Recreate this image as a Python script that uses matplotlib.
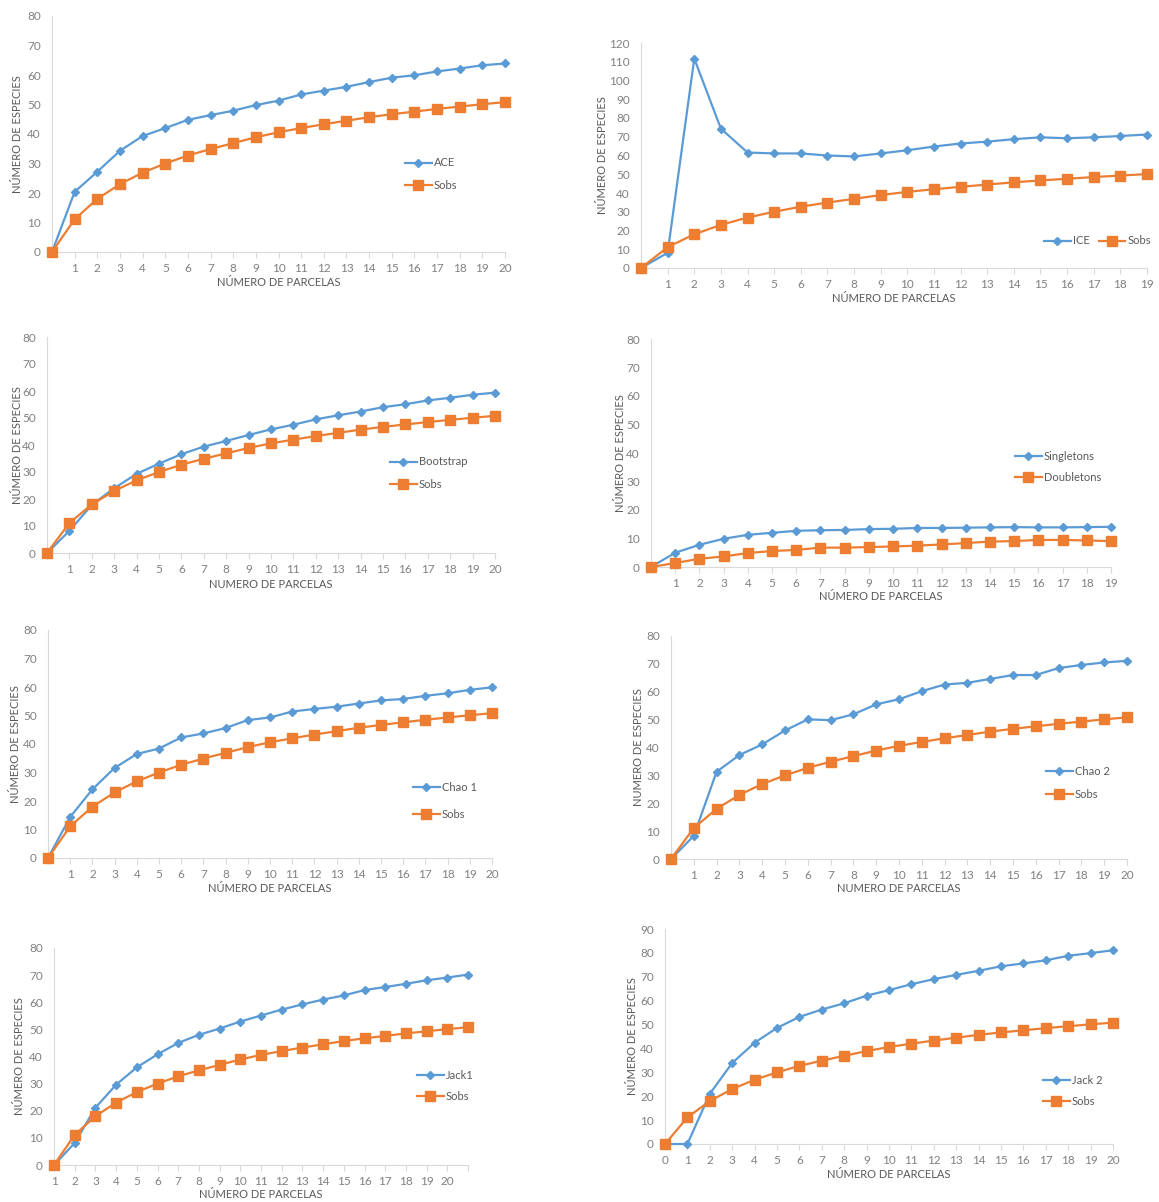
import numpy as np
import matplotlib.pyplot as plt
from matplotlib.lines import Line2D

plt.rcParams.update({
    'font.family': ['Lato', 'DejaVu Sans'],
    'font.size': 8,
})

BLUE = '#5B9BD5'
ORANGE = '#ED7D31'
TICK_GREY = '#808080'
TITLE_GREY = '#595959'
AXIS_GREY = '#D9D9D9'

# ---- data ----
sobs = [0, 11.1, 18.0, 23.0, 26.9, 30.0, 32.7, 34.9, 36.9, 38.9, 40.6,
        42.0, 43.3, 44.5, 45.7, 46.7, 47.6, 48.5, 49.3, 50.1, 50.8]
ace = [0, 20.4, 27.2, 34.3, 39.3, 42.0, 44.8, 46.4, 47.9, 49.8, 51.3,
       53.4, 54.7, 56.0, 57.6, 59.1, 59.9, 61.2, 62.2, 63.3, 63.9]
ice = [0, 8.1, 111.7, 74.3, 61.6, 61.1, 61.1, 60.0, 59.5, 61.1, 62.8,
       64.8, 66.4, 67.4, 68.7, 69.7, 69.2, 69.7, 70.4, 71.2]
bootstrap = [0, 8.2, 17.8, 24.0, 29.3, 33.1, 36.6, 39.4, 41.5, 43.7, 45.8,
             47.5, 49.5, 51.0, 52.4, 54.0, 55.1, 56.5, 57.5, 58.6, 59.4]
singletons = [0, 5.0, 7.8, 9.9, 11.3, 12.0, 12.7, 12.9, 13.0, 13.3, 13.4,
              13.7, 13.7, 13.8, 13.9, 14.0, 13.9, 13.9, 14.0, 14.1]
doubletons = [0, 1.4, 2.9, 3.7, 4.9, 5.6, 6.0, 6.8, 6.8, 7.0, 7.2,
              7.5, 7.9, 8.4, 8.9, 9.1, 9.5, 9.5, 9.3, 9.1]
chao1 = [0, 14.4, 24.1, 31.6, 36.5, 38.4, 42.3, 43.7, 45.6, 48.4, 49.3,
         51.4, 52.3, 53.1, 54.2, 55.3, 55.8, 56.9, 57.8, 59.0, 59.9]
chao2 = [0, 8.3, 31.3, 37.3, 41.1, 46.1, 50.1, 49.8, 51.9, 55.5, 57.3,
         60.2, 62.6, 63.2, 64.6, 66.0, 66.0, 68.5, 69.6, 70.5, 71.1]
jack1 = [0, 8.1, 21.1, 29.6, 36.0, 40.8, 45.0, 48.0, 50.3, 52.9, 55.1,
         57.3, 59.2, 61.0, 62.5, 64.5, 65.6, 66.8, 68.1, 69.1, 70.2]
jack2 = [0, 0, 21.0, 33.9, 42.4, 48.6, 53.2, 56.3, 58.9, 62.1, 64.4,
         66.9, 69.0, 70.8, 72.5, 74.4, 75.6, 76.9, 78.8, 79.9, 81.1]

labels_1_20 = [''] + [str(i) for i in range(1, 21)]
labels_1_19 = [''] + [str(i) for i in range(1, 20)]
labels_jack1 = [str(i) for i in range(1, 21)] + ['']
labels_0_20 = [str(i) for i in range(0, 21)]

W, H = 1159, 1202
fig = plt.figure(figsize=(W / 100, H / 100), dpi=100)


def panel(x0, x1, ytop, ybot, ymax, ystep, est, obs, names, xlabels,
          xtitle, ytitle, xtitle_y, ytitle_x, leg_x, leg_y, leg_space,
          ncol=1):
    ax = fig.add_axes([x0 / W, 1 - ybot / H, (x1 - x0) / W, (ybot - ytop) / H])
    n = len(xlabels)
    x = np.arange(n)
    # Excel draws the second series on top
    ax.plot(x, est[:n], color=BLUE, lw=1.6, marker='D', ms=4.2,
            mec=BLUE, zorder=3)
    ax.plot(x, obs[:n], color=ORANGE, lw=1.6, marker='s', ms=6.5,
            mec=ORANGE, zorder=4)
    ax.set_xlim(0, n - 1)
    ax.set_ylim(0, ymax)
    ax.set_yticks(np.arange(0, ymax + 1, ystep))
    ax.set_xticks(x)
    ax.set_xticklabels(xlabels)
    for s in ['top', 'right']:
        ax.spines[s].set_visible(False)
    for s in ['left', 'bottom']:
        ax.spines[s].set_color(AXIS_GREY)
        ax.spines[s].set_linewidth(0.8)
    ax.tick_params(axis='y', length=0, pad=8, colors=TICK_GREY, labelsize=8.5)
    ax.tick_params(axis='x', length=4, width=0.8, color=AXIS_GREY,
                   labelcolor=TICK_GREY, labelsize=8.5, pad=4)
    ax.patch.set_alpha(0)
    for line in ax.lines:
        line.set_clip_on(False)

    fig.text((x0 + x1) / 2 / W, 1 - xtitle_y / H, xtitle, ha='center',
             va='center', color=TITLE_GREY, fontsize=8)
    fig.text(ytitle_x / W, 1 - (ytop + ybot) / 2 / H, ytitle, rotation=90,
             ha='center', va='center', color=TITLE_GREY, fontsize=8)

    handles = [
        Line2D([0], [0], color=BLUE, lw=1.6, marker='D', ms=4.2, label=names[0]),
        Line2D([0], [0], color=ORANGE, lw=1.6, marker='s', ms=6.5, label=names[1]),
    ]
    ax.legend(handles=handles, loc='center left',
              bbox_to_anchor=(leg_x / W, 1 - leg_y / H),
              bbox_transform=fig.transFigure, frameon=False, ncol=ncol,
              handlelength=2.4, handletextpad=0.2, borderpad=0, borderaxespad=0,
              labelspacing=leg_space, columnspacing=0.8, fontsize=8,
              labelcolor=TITLE_GREY)
    return ax


panel(52, 505, 16, 252, 80, 10, ace, sobs, ['ACE', 'Sobs'], labels_1_20,
      'NÚMERO DE PARCELAS', 'NÚMERO DE ESPECIES', 283, 18, 405, 174, 1.0)
panel(641, 1147, 43, 268, 120, 10, ice, sobs, ['ICE', 'Sobs'], labels_1_19,
      'NÚMERO DE PARCELAS', 'NÚMERO DE ESPECIES', 299, 602, 1044, 241, 1.0,
      ncol=2)
panel(47, 495, 337, 553, 80, 10, bootstrap, sobs, ['Bootstrap', 'Sobs'],
      labels_1_20, 'NUMERO DE PARCELAS', 'NÚMERO DE ESPECIES', 584, 18,
      390, 473, 1.0)
panel(651, 1111, 339, 567, 80, 10, singletons, doubletons,
      ['Singletons', 'Doubletons'], labels_1_19, 'NÚMERO DE PARCELAS',
      'NÚMERO DE ESPECIES', 597, 620, 1015, 467, 0.9)
panel(48, 492, 630, 858, 80, 10, chao1, sobs, ['Chao 1', 'Sobs'], labels_1_20,
      'NÚMERO DE PARCELAS', 'NÚMERO DE ESPECIES', 888, 16, 413, 801, 1.5)
panel(671, 1127, 636, 859, 80, 10, chao2, sobs, ['Chao 2', 'Sobs'],
      labels_1_20, 'NUMERO DE PARCELAS', 'NUMERO DE ESPECIES', 889, 638,
      1046, 783, 1.1)
panel(54, 468, 948, 1165, 80, 10, jack1, sobs, ['Jack1', 'Sobs'], labels_jack1,
      'NÚMERO DE PARCELAS', 'NÚMERO DE ESPECIES', 1195, 20, 417, 1086, 0.9)
panel(665, 1113, 929, 1144, 90, 10, jack2, sobs, ['Jack 2', 'Sobs'],
      labels_0_20, 'NÚMERO DE PARCELAS', 'NÚMERO DE ESPECIES', 1175, 632,
      1043, 1091, 0.9)

fig.savefig('out.png', dpi=100, facecolor='white')
